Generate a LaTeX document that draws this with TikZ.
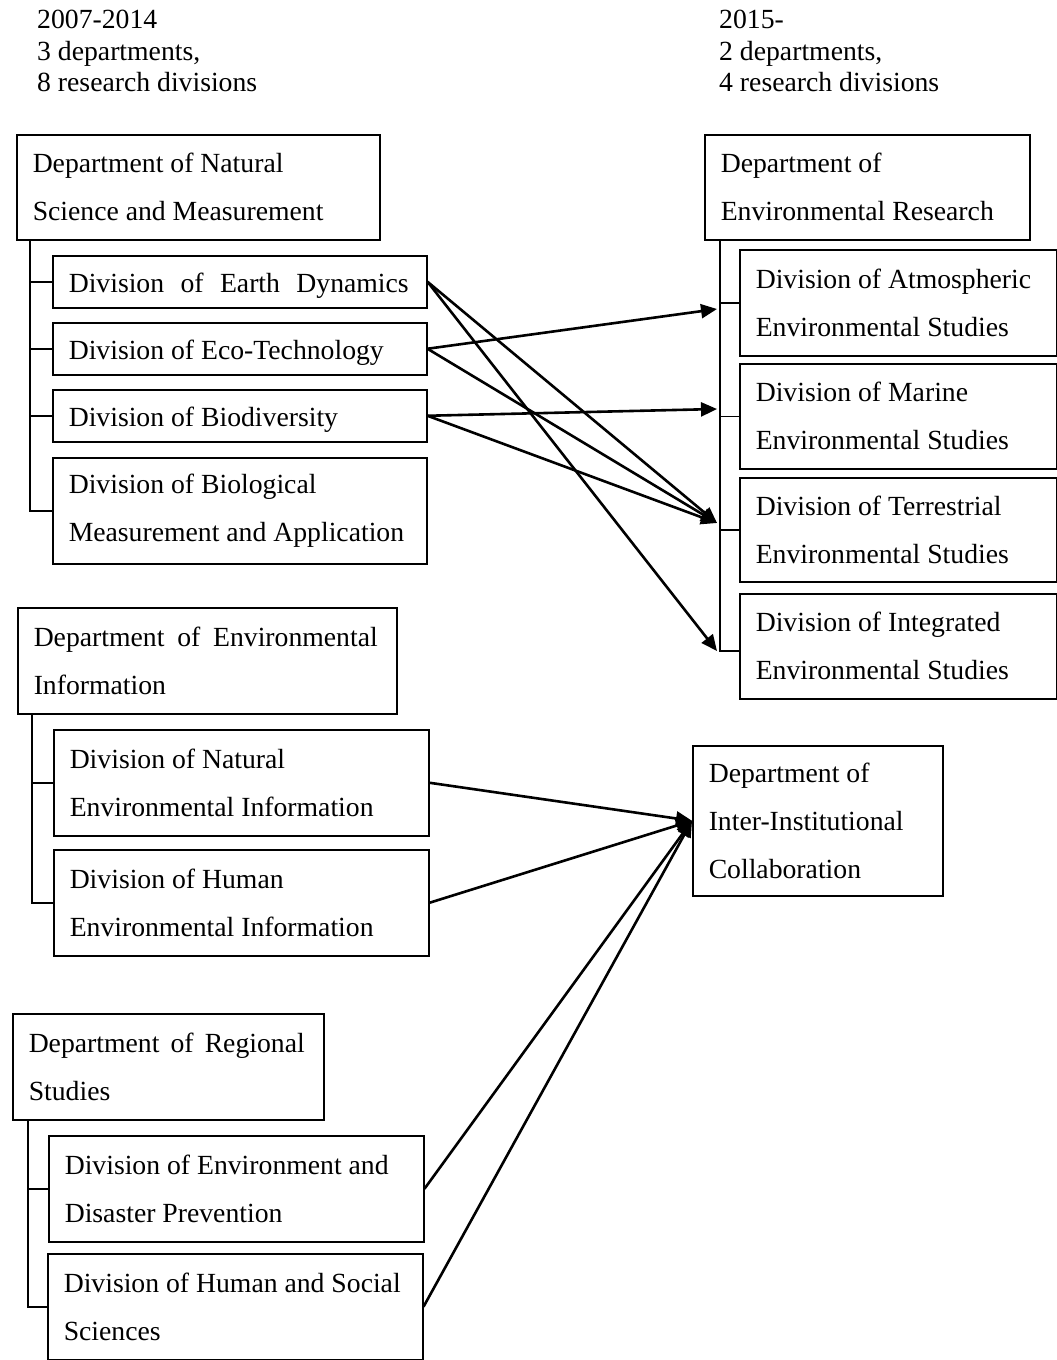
\documentclass[tikz,border=0pt]{standalone}
\usepackage{fontspec}
\setmainfont{Liberation Serif}
\usetikzlibrary{arrows.meta}

\newcommand{\spreadline}[2]{\makebox[#1][s]{#2}}

\tikzset{
  orgbox/.style={draw, line width=1.5pt, anchor=north west, align=left,
    inner xsep=16pt, inner ysep=0pt, font=\fontsize{27.7pt}{48pt}\selectfont,
    execute at begin node={\spaceskip=0pt \xspaceskip=0pt \hyphenpenalty=10000 \exhyphenpenalty=10000}},
  oneline/.style={text height=27pt, text depth=6pt},
  headtext/.style={anchor=north west, inner sep=0pt, align=left,
    font=\fontsize{27.7pt}{31.5pt}\selectfont,
    execute at begin node={\spaceskip=0pt \xspaceskip=0pt}},
  branch/.style={line width=1.5pt},
  moveline/.style={->, line width=2.6pt}
}

\begin{document}
\begin{tikzpicture}[x=1pt, y=-1pt, >={Triangle[length=16pt,width=14pt]}]
  \useasboundingbox (0,0) rectangle (1057,1360);

  % headings
  \node[headtext] (oldhead) at (37,10) {2007-2014\\3 departments,\\8 research divisions};
  \node[headtext] (newhead) at (719,10) {2015-\\2 departments,\\4 research divisions};

  % 2007-2014
  \node[orgbox, text width=331pt, minimum height=105pt] (natdep) at (16,134) {Department of Natural\\Science and Measurement};
  \node[orgbox, oneline, text width=342pt, minimum height=52pt] (earth) at (52,255) {\spreadline{340pt}{Division of Earth Dynamics}};
  \node[orgbox, oneline, text width=342pt, minimum height=52pt] (eco) at (52,322) {Division of Eco-Technology};
  \node[orgbox, oneline, text width=342pt, minimum height=52pt] (bio) at (52,389) {Division of Biodiversity};
  \node[orgbox, text width=342pt, minimum height=106pt] (biomeas) at (52,457) {Division of Biological\\Measurement and Application};

  \node[orgbox, text width=347pt, minimum height=106pt] (infodep) at (17,607) {\spreadline{344pt}{Department of Environmental}\\Information};
  \node[orgbox, text width=343pt, minimum height=106pt] (natinfo) at (53,729) {Division of Natural\\Environmental Information};
  \node[orgbox, text width=343pt, minimum height=106pt] (huminfo) at (53,849) {Division of Human\\Environmental Information};

  \node[orgbox, text width=279pt, minimum height=106pt] (regdep) at (12,1013) {\spreadline{276pt}{Department of Regional}\\Studies};
  \node[orgbox, text width=343pt, minimum height=106pt] (disaster) at (48,1135) {Division of Environment and\\Disaster Prevention};
  \node[orgbox, text width=343pt, minimum height=106pt] (social) at (47,1253) {\mbox{Division of Human and Social}\\Sciences};

  % 2015-
  \node[orgbox, text width=293pt, minimum height=105pt] (envdep) at (704,134) {Department of\\Environmental Research};
  \node[orgbox, text width=285pt, minimum height=106pt] (atmos) at (739,249) {\mbox{Division of Atmospheric}\\Environmental Studies};
  \node[orgbox, text width=285pt, minimum height=105pt] (marine) at (739,363) {Division of Marine\\Environmental Studies};
  \node[orgbox, text width=285pt, minimum height=104pt] (terr) at (739,477) {Division of Terrestrial\\Environmental Studies};
  \node[orgbox, text width=285pt, minimum height=105pt] (integ) at (739,593) {Division of Integrated\\Environmental Studies};
  \node[orgbox, text width=218pt, minimum height=150pt] (inter) at (692,745) {Department of\\Inter-Institutional\\Collaboration};

  % arrow ends on the right bracket
  \coordinate (atmosin) at (717,309);
  \coordinate (marinein) at (717,409);
  \coordinate (terrin) at (717,523);
  \coordinate (integin) at (717,651);

  % brackets
  \coordinate (natbar) at (30,239);
  \coordinate (infobar) at (32,713);
  \coordinate (regbar) at (28,1119);
  \coordinate (envbar) at (720,239);
  \draw[branch] (natbar) |- (biomeas.west);
  \foreach \d in {earth,eco,bio} \draw[branch] (\d.west) -- (\d.west -| natbar);
  \draw[branch] (infobar) |- (huminfo.west);
  \draw[branch] (natinfo.west) -- (natinfo.west -| infobar);
  \draw[branch] (regbar) |- (social.west);
  \draw[branch] (disaster.west) -- (disaster.west -| regbar);
  \draw[branch] (envbar) |- (integ.west |- integin);
  \foreach \d in {atmos,marine,terr} \draw[branch] (\d.west) -- (\d.west -| envbar);

  % moves
  \draw[moveline] (earth.east) -- (terrin);
  \draw[moveline] (earth.east) -- (integin);
  \draw[moveline] (eco.east) -- (atmosin);
  \draw[moveline] (eco.east) -- (terrin);
  \draw[moveline] (bio.east) -- (marinein);
  \draw[moveline] (bio.east) -- (terrin);
  \foreach \d in {natinfo,huminfo,disaster,social} \draw[moveline] (\d.east) -- (inter.west);
\end{tikzpicture}
\end{document}
